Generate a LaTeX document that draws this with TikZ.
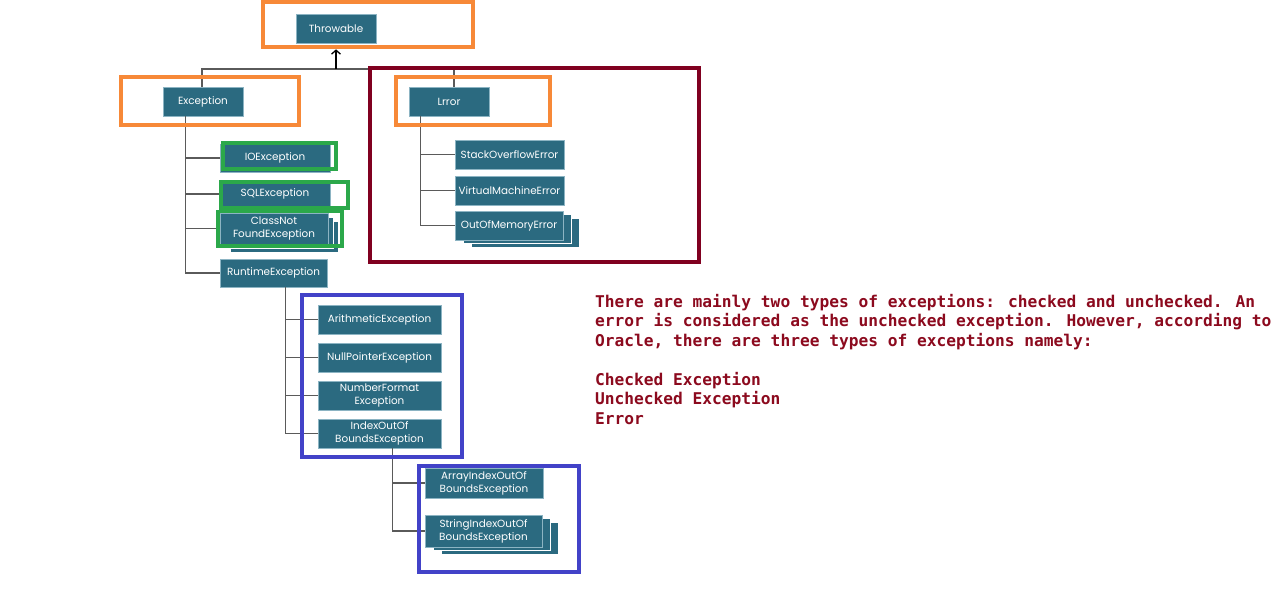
\documentclass[tikz,border=0pt]{standalone}
\usepackage{fontspec}
\setmainfont{Poppins}
\newfontfamily\monofont{DejaVu Sans Mono}
\usetikzlibrary{shadows,arrows.meta}
\definecolor{boxcol}{RGB}{43,106,128}
\definecolor{boxedge}{RGB}{140,180,195}
\definecolor{orangef}{RGB}{247,137,56}
\definecolor{greenf}{RGB}{43,168,74}
\definecolor{bluef}{RGB}{66,66,200}
\definecolor{redf}{RGB}{128,0,32}
\definecolor{txtred}{RGB}{140,10,30}
\definecolor{connc}{RGB}{90,90,90}
\tikzset{
  cls/.style={rectangle, fill=boxcol, draw=boxedge, line width=0.6pt, text=white,
    font=\fontsize{10.4}{13}\selectfont, align=center, inner sep=1pt},
  stackA/.style={copy shadow={fill=boxcol,draw=white,line width=0.8pt,shadow xshift=16pt,shadow yshift=-7pt},
                 copy shadow={fill=boxcol,draw=white,line width=0.8pt,shadow xshift=8pt,shadow yshift=-3.5pt}},
  stackB/.style={copy shadow={fill=boxcol,draw=white,line width=0.8pt,shadow xshift=10pt,shadow yshift=-8pt},
                 copy shadow={fill=boxcol,draw=white,line width=0.8pt,shadow xshift=5pt,shadow yshift=-4pt}},
  conn/.style={draw=connc, line width=1.1pt},
  fo/.style={draw=orangef, line width=4pt},
  fg/.style={draw=greenf, line width=3.2pt},
  fb/.style={draw=bluef, line width=3.5pt},
  fr/.style={draw=redf, line width=3.5pt},
}
\begin{document}
\begin{tikzpicture}[x=1pt,y=-1pt]
\useasboundingbox[fill=white] (0,0) rectangle (1280,598);
% nodes
\node[cls, minimum width=80pt, minimum height=29pt] (throw) at (336,28.5) {Throwable};
\node[cls, minimum width=80pt, minimum height=29pt] (exc) at (203,101.5) {Exception};
\node[cls, minimum width=80pt, minimum height=29pt] (err) at (449,101.5) {Lrror};
\node[cls, minimum width=110pt, minimum height=28pt] (io) at (275,158) {IOException};
\node[cls, minimum width=110pt, minimum height=28pt] (sql) at (275,194) {SQLException};
\node[cls, stackB, minimum width=108pt, minimum height=31pt] (cnf) at (274,228.5) {ClassNot\\FoundException};
\node[cls, minimum width=107pt, minimum height=28pt] (rt) at (273.5,273) {RuntimeException};
\node[cls, minimum width=123pt, minimum height=29pt] (ar) at (379.5,319.5) {ArithmeticException};
\node[cls, minimum width=123pt, minimum height=29pt] (np) at (379.5,357.5) {NullPointerException};
\node[cls, minimum width=123pt, minimum height=29pt] (nf) at (379.5,395.5) {NumberFormat\\Exception};
\node[cls, minimum width=123pt, minimum height=29pt] (ioob) at (379.5,433.5) {IndexOutOf\\BoundsException};
\node[cls, minimum width=118pt, minimum height=30pt] (aioob) at (484,483) {ArrayIndexOutOf\\BoundsException};
\node[cls, stackA, minimum width=117pt, minimum height=32pt] (sioob) at (483.5,531) {StringIndexOutOf\\BoundsException};
\node[cls, minimum width=109pt, minimum height=29pt] (so) at (509.5,154.5) {StackOverflowError};
\node[cls, minimum width=109pt, minimum height=29pt] (vm) at (509.5,190.5) {VirtualMachineError};
\node[cls, stackA, minimum width=108pt, minimum height=29pt] (oom) at (509,225.5) {OutOfMemoryError};
% connectors
\coordinate (bar) at (336,69);
\draw[conn] ([xshift=-1pt]exc.north) |- (bar) -| ([xshift=5pt]err.north);
\draw[line width=1.3pt, shorten >=6pt, -{Straight Barb[length=4pt,width=9pt]}] (bar) -- (throw.south);
\foreach \c in {io,sql,cnf,rt} \draw[conn] ([xshift=23pt]exc.south west) |- (\c.west);
\foreach \c in {so,vm,oom} \draw[conn] ([xshift=12pt]err.south west) |- (\c.west);
\foreach \c in {ar,np,nf,ioob} \draw[conn] ([xshift=66pt]rt.south west) |- (\c.west);
\foreach \c in {aioob,sioob} \draw[conn] ([xshift=75pt]ioob.south west) |- (\c.west);
% frames
\draw[fo] (263,2) rectangle (473,47);
\draw[fo] (121,77) rectangle (299,125);
\draw[fr] (370,68) rectangle (699,262);
\draw[fo] (396,77) rectangle (550,125);
\draw[fg] (223,143) rectangle (336,169);
\draw[fg] (221,182) rectangle (348,208);
\draw[fg] (218,211.5) rectangle (342,246);
\draw[fb] (302,295) rectangle (462,457);
\draw[fb] (419,466) rectangle (579,572);
% text
\node[anchor=north west, inner sep=0pt, align=left, text=txtred,
  font=\monofont\bfseries\fontsize{16.2}{19.5}\selectfont] (note) at (595,294)
  {There are mainly two types of exceptions: checked and unchecked. An\\
   error is considered as the unchecked exception. However, according to\\
   Oracle, there are three types of exceptions namely:\\[19.5pt]
   Checked Exception\\
   Unchecked Exception\\
   Error};
\end{tikzpicture}
\end{document}
